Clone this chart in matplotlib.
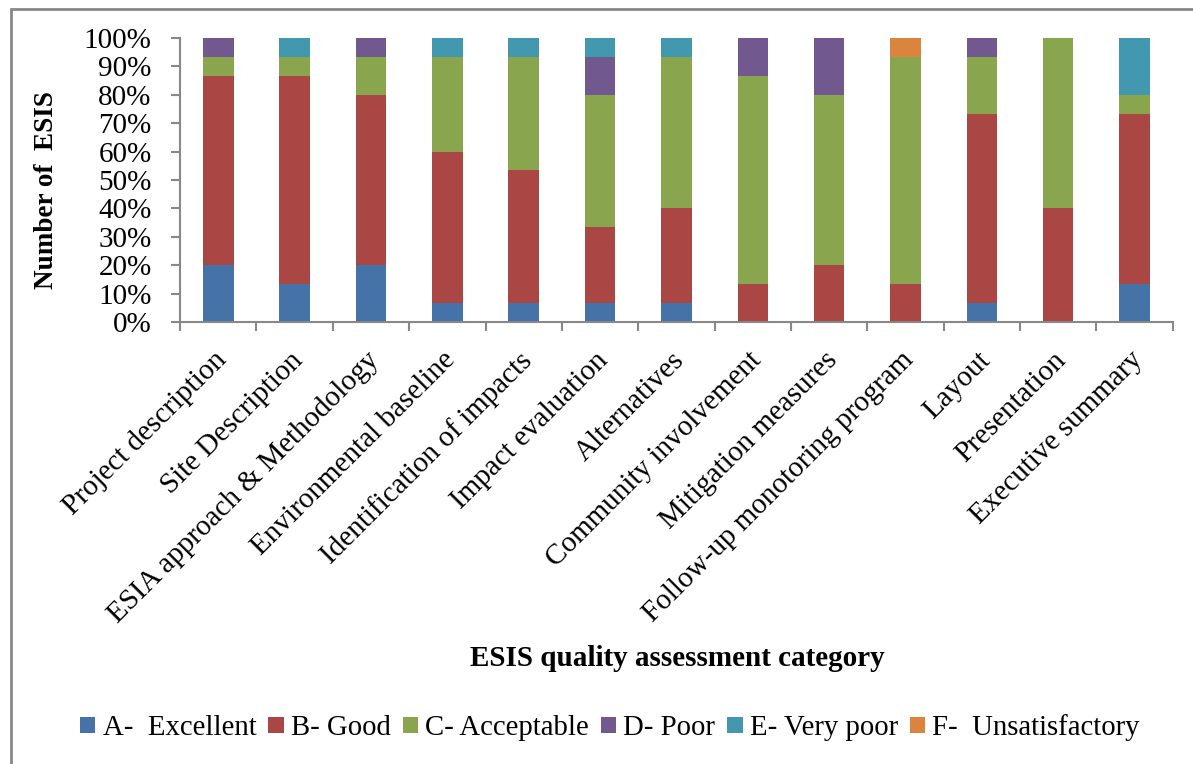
import matplotlib
matplotlib.use("Agg")
import matplotlib.pyplot as plt
from matplotlib.patches import Rectangle
from matplotlib.ticker import PercentFormatter, FixedLocator
from matplotlib.transforms import ScaledTranslation
import numpy as np

plt.rcParams['font.family'] = ['Liberation Serif', 'DejaVu Serif']

categories = [
    "Project description", "Site Description", "ESIA approach & Methodology",
    "Environmental baseline", "Identification of impacts", "Impact evaluation",
    "Alternatives", "Community involvement", "Mitigation measures",
    "Follow-up monotoring program", "Layout", "Presentation", "Executive summary",
]

# Number of reports (out of 15) in each grade per category
total_reports = 15
grade_a = [3, 2, 3, 1, 1, 1, 1, 0, 0, 0, 1, 0, 2]
grade_b = [10, 11, 9, 8, 7, 4, 5, 2, 3, 2, 10, 6, 9]
grade_c = [1, 1, 2, 5, 6, 7, 8, 11, 9, 12, 3, 9, 1]
grade_d = [1, 0, 1, 0, 0, 2, 0, 2, 3, 0, 1, 0, 0]
grade_e = [0, 1, 0, 1, 1, 1, 1, 0, 0, 0, 0, 0, 3]
grade_f = [0, 0, 0, 0, 0, 0, 0, 0, 0, 1, 0, 0, 0]

series_names = ["A-  Excellent", "B- Good", "C- Acceptable", "D- Poor",
                "E- Very poor", "F-  Unsatisfactory"]
series_colors = ["#4572A7", "#AA4643", "#89A54E", "#71588F", "#4198AF", "#DB843D"]
series = [grade_a, grade_b, grade_c, grade_d, grade_e, grade_f]

fig = plt.figure(figsize=(11.93, 7.64), dpi=100)
ax = fig.add_axes([0.151, 0.5785, 0.832, 0.372])

x = np.arange(len(categories))
bottom = np.zeros(len(categories))
for name, color, vals in zip(series_names, series_colors, series):
    pct = np.array(vals) / total_reports * 100
    ax.bar(x, pct, width=0.40, bottom=bottom, color=color, label=name,
           linewidth=0)
    bottom += pct

ax.set_xlim(-0.5, len(categories) - 0.5)
ax.set_ylim(0, 100)
ax.set_yticks(np.arange(0, 101, 10))
ax.yaxis.set_major_formatter(PercentFormatter(decimals=0))
ax.tick_params(axis='y', labelsize=21, length=6.5, color='#888888', width=1.5, pad=14)

# Tick marks sit between categories; labels sit under each bar
ax.xaxis.set_major_locator(FixedLocator(np.arange(-0.5, len(categories), 1.0)))
ax.xaxis.set_minor_locator(FixedLocator(x))
ax.set_xticklabels([])
ax.set_xticklabels(categories, minor=True, rotation=45, ha='right',
                   rotation_mode='anchor', fontsize=21)
ax.tick_params(axis='x', which='major', length=6.5, color='#888888', width=1.5)
ax.tick_params(axis='x', which='minor', length=0, pad=18)
for lbl in ax.get_xticklabels(minor=True):
    lbl.set_transform(lbl.get_transform() + ScaledTranslation(
        -0.05, 0, fig.dpi_scale_trans))

for side in ('top', 'right'):
    ax.spines[side].set_visible(False)
for side in ('left', 'bottom'):
    ax.spines[side].set_color('#888888')
    ax.spines[side].set_linewidth(1.5)

fig.text(47 / 1193, 1 - 190 / 764, "Number of  ESIS", fontsize=19.5,
         fontweight='bold', rotation=90, ha='center', va='center')
fig.text(677 / 1193, 1 - 658 / 764, "ESIS quality assessment category",
         fontsize=21, fontweight='bold', ha='center', va='center')

fig.legend(loc='center', bbox_to_anchor=(610 / 1193, 1 - 728 / 764), ncol=6,
           frameon=False, fontsize=20.7, handlelength=0.53, handleheight=0.5,
           handletextpad=0.25, columnspacing=0.42)

# Chart area border (left and top edges fall inside the canvas)
fig.add_artist(Rectangle((11 / 1193, -0.1), 1.2, 1.1 - 9 / 764,
                         transform=fig.transFigure, fill=False,
                         edgecolor='#888888', linewidth=2))

fig.savefig("out.png", dpi=100, facecolor='white')
